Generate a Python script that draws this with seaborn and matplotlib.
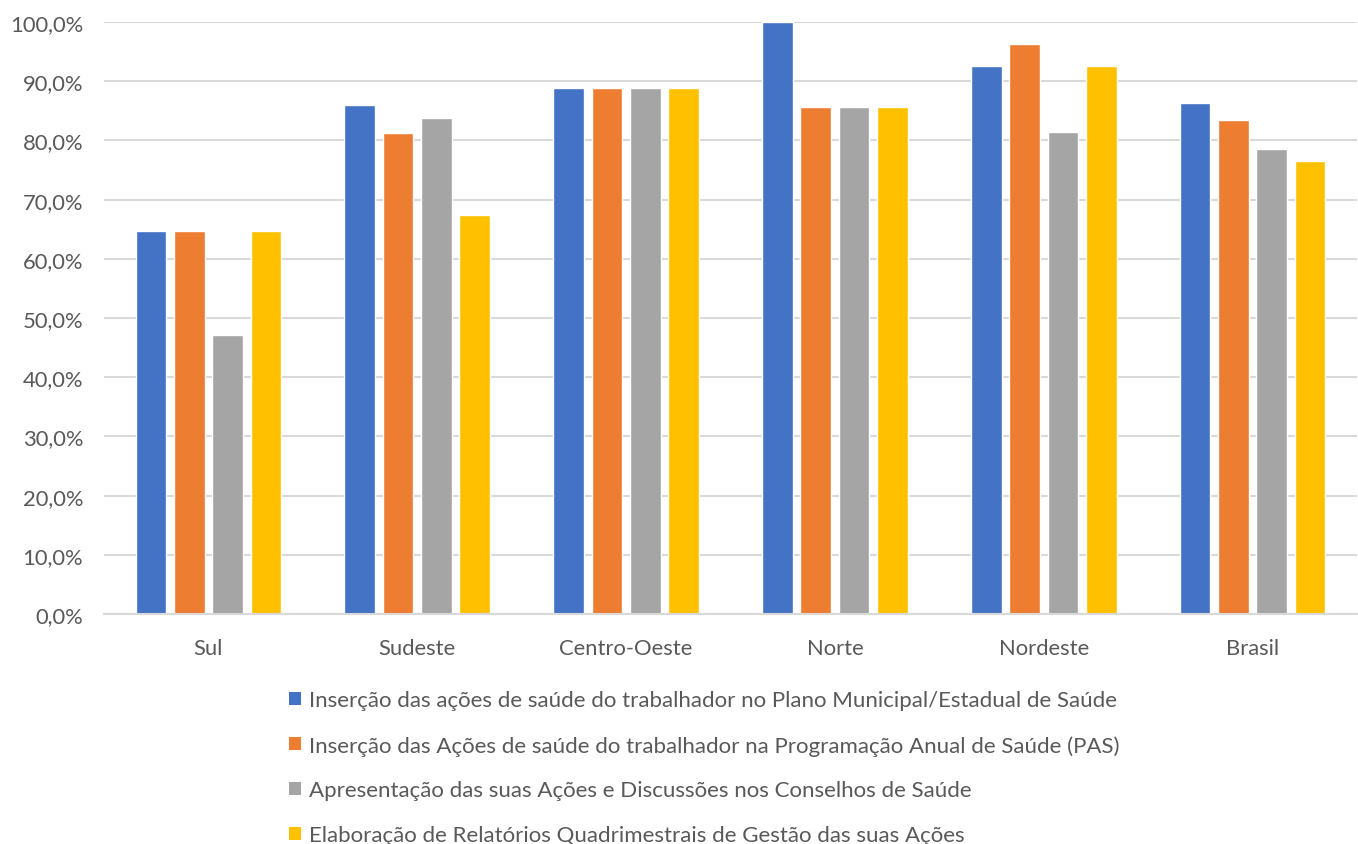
import matplotlib
matplotlib.use("Agg")
import matplotlib.pyplot as plt
from matplotlib.ticker import FuncFormatter
from matplotlib.patches import Patch
import seaborn as sns
import pandas as pd

regions = ["Sul", "Sudeste", "Centro-Oeste", "Norte", "Nordeste", "Brasil"]
series_names = [
    "Inserção das ações de saúde do trabalhador no Plano Municipal/Estadual de Saúde",
    "Inserção das Ações de saúde do trabalhador na Programação Anual de Saúde (PAS)",
    "Apresentação das suas Ações e Discussões nos Conselhos de Saúde",
    "Elaboração de Relatórios Quadrimestrais de Gestão das suas Ações",
]
plano = [64.7, 86.0, 88.9, 100.0, 92.6, 86.4]
pas = [64.7, 81.3, 88.9, 85.7, 96.3, 83.4]
conselhos = [47.1, 83.7, 88.9, 85.7, 81.5, 78.5]
relatorios = [64.7, 67.4, 88.9, 85.7, 92.6, 76.6]
yticks = [0, 10, 20, 30, 40, 50, 60, 70, 80, 90, 100]

colors = ["#4472C4", "#ED7D31", "#A5A5A5", "#FFC000"]

rows = []
for name, vals in zip(series_names, [plano, pas, conselhos, relatorios]):
    for reg, v in zip(regions, vals):
        rows.append({"Região": reg, "Série": name, "Valor": v})
df = pd.DataFrame(rows)

sns.set_theme(style="white")
plt.rcParams["font.family"] = ["Lato", "DejaVu Sans"]

fig = plt.figure(figsize=(13.58, 8.45), dpi=100)
ax = fig.add_axes([104 / 1358, 1 - 615 / 845, (1357 - 104) / 1358, (615 - 23) / 845])

sns.barplot(data=df, x="Região", y="Valor", hue="Série", order=regions,
            hue_order=series_names, palette=colors, width=0.735, gap=0.2,
            saturation=1, ax=ax, legend=False)

ax.set_ylim(0, 100)
ax.set_xlim(-0.5, len(regions) - 0.5)
ax.set_yticks(yticks)
ax.yaxis.set_major_formatter(FuncFormatter(lambda v, p: f"{v:.1f}%".replace(".", ",")))
ax.grid(axis="y", color="#D9D9D9", linewidth=1.5)
ax.set_axisbelow(True)
for s in ["top", "right", "left"]:
    ax.spines[s].set_visible(False)
ax.spines["bottom"].set_color("#D9D9D9")
ax.spines["bottom"].set_linewidth(1.5)
ax.tick_params(axis="both", length=0, labelsize=15.8, labelcolor="#595959")
ax.tick_params(axis="x", pad=17)
ax.tick_params(axis="y", pad=15)
ax.set_xlabel("")
ax.set_ylabel("")

handles = [Patch(facecolor=c, edgecolor="none") for c in colors]
fig.legend(handles, series_names, loc="upper left", bbox_to_anchor=(278 / 1358, 1 - 680 / 845),
           frameon=False, fontsize=16, labelcolor="#595959", handlelength=0.55,
           handleheight=0.55, handletextpad=0.35, labelspacing=1.12, borderpad=0)

fig.savefig("out.png", dpi=100)
